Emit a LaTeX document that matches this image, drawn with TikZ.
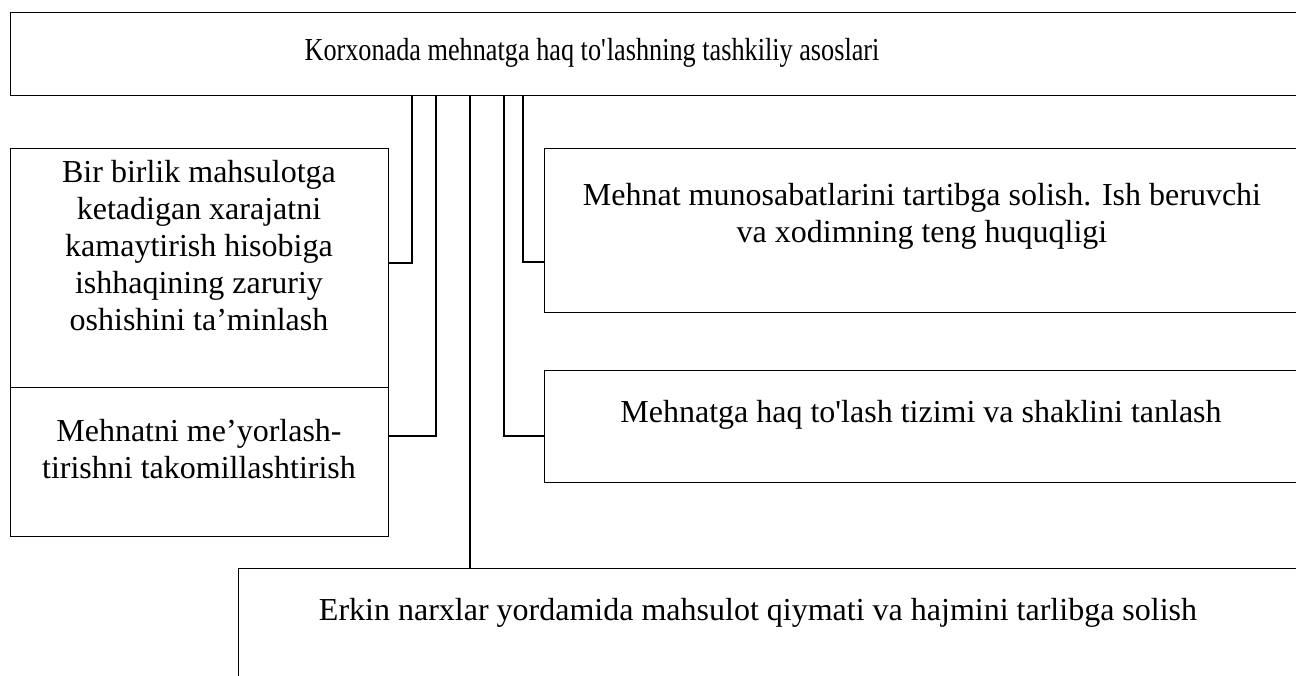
\documentclass[tikz,border=0pt]{standalone}
\usepackage{fontspec}
\setmainfont{Liberation Serif}
\newfontfamily\torshrift[FakeStretch=0.82]{Liberation Serif}
\tikzset{
	quti/.style = {draw, line width = 1.1pt, rectangle, anchor = north west, inner sep = 0pt},
	matn/.style = {align = center, inner sep = 0pt, font = \fontsize{32}{37}\selectfont},
	ulash/.style = {line width = 1.6pt}
}
\begin{document}
\begin{tikzpicture} [x = 1pt, y = -1pt]
	\useasboundingbox (0,0) rectangle (1296,675);
	\clip (0,0) rectangle (1296,675);
	\node [quti, minimum width = 1320pt, minimum height = 83pt] (yuqori) at (10,12) {};
	\node [quti, minimum width = 378pt, minimum height = 239pt] (chap1) at (10,148) {};
	\node [quti, minimum width = 378pt, minimum height = 149pt] (chap2) at (10,387) {};
	\node [quti, minimum width = 760pt, minimum height = 164pt] (ong1) at (544,148) {};
	\node [quti, minimum width = 760pt, minimum height = 112pt] (ong2) at (544,370) {};
	\node [quti, minimum width = 1100pt, minimum height = 150pt] (pastki) at (238,568) {};
	\node [matn, font = \torshrift\fontsize{32}{37}\selectfont] (tyuqori) at (592,53) {Korxonada mehnatga haq to\textquotesingle lashning tashkiliy asoslari};
	\node [matn] (tchap1) at (199,246) {Bir birlik mahsulotga\\ketadigan xarajatni\\kamaytirish hisobiga\\ishhaqining zaruriy\\oshishini ta’minlash};
	\node [matn] (tchap2) at (199,449) {Mehnatni me’yorlash-\\tirishni takomillashtirish};
	\node [matn] (tong1) at (922,216) {Mehnat munosabatlarini tartibga solish. Ish beruvchi\\va xodimning teng huquqligi};
	\node [matn] (tong2) at (921,415) {Mehnatga haq to\textquotesingle lash tizimi va shaklini tanlash};
	\node [matn] (tpastki) at (758,613) {Erkin narxlar yordamida mahsulot qiymati va hajmini tarlibga solish};
	\draw [ulash] (yuqori.south -| 412,0) |- (chap1.east |- 0,263);
	\draw [ulash] (yuqori.south -| 436,0) |- (chap2.east |- 0,436);
	\draw [ulash] (yuqori.south -| 470,0) -- (pastki.north -| 470,0);
	\draw [ulash] (yuqori.south -| 504,0) |- (ong2.west |- 0,436);
	\draw [ulash] (yuqori.south -| 523,0) |- (ong1.west |- 0,262);
\end{tikzpicture}
\end{document}
